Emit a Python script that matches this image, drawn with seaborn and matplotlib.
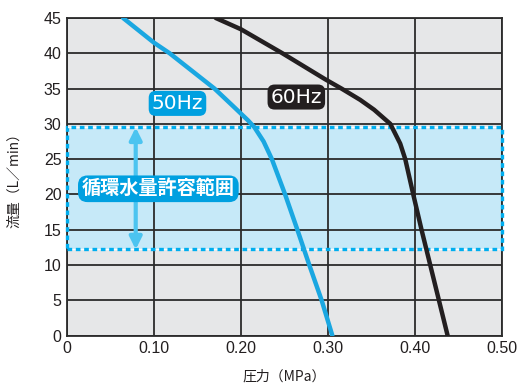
import matplotlib
matplotlib.use("Agg")
import matplotlib.pyplot as plt
from matplotlib.patches import Rectangle
import numpy as np
import pandas as pd
import seaborn as sns

# curve data (flow in L/min vs pressure in MPa)
flow_50 = [45, 41.5, 40, 35, 32.5, 30.5, 29.5, 27.5, 25, 20, 15, 10, 5, 0]
pres_50 = [0.0645, 0.100, 0.118, 0.1695, 0.191, 0.208, 0.2155, 0.226, 0.2355, 0.2507,
           0.2648, 0.2785, 0.2927, 0.305]
flow_60 = [45, 43.4, 40, 36.3, 35, 33.4, 32, 30, 27.2, 25, 20, 15, 10, 5, 0]
pres_60 = [0.171, 0.200, 0.2476, 0.297, 0.3155, 0.337, 0.353, 0.3716, 0.383, 0.3888,
           0.398, 0.4075, 0.4175, 0.4275, 0.4375]

# allowable circulating flow range
range_low = 12.2
range_high = 29.5

x_ticks = [0, 0.10, 0.20, 0.30, 0.40, 0.50]
x_tick_labels = ["0", "0.10", "0.20", "0.30", "0.40", "0.50"]
y_ticks = [0, 5, 10, 15, 20, 25, 30, 35, 40, 45]

BLUE = "#1aa7e1"
DARK = "#231f20"

sns.set_style("white")
plt.rcParams["font.family"] = ["Liberation Sans", "Noto Sans CJK JP", "DejaVu Sans"]

fig = plt.figure(figsize=(5.2, 3.86), dpi=100)
ax = fig.add_axes([0.1288, 0.1306, 0.8366, 0.8228])
ax.set_facecolor("#e6e7e8")

# shaded allowable range
ax.axhspan(range_low, range_high, facecolor="#c6e9f8", zorder=0.5)

# grid
ax.set_xlim(0, 0.5)
ax.set_ylim(0, 45)
ax.set_xticks(x_ticks)
ax.set_xticklabels(x_tick_labels)
ax.set_yticks(y_ticks)
ax.grid(True, color="#2b2b2b", linewidth=1.3, zorder=1)
ax.set_axisbelow(True)
for s in ax.spines.values():
    s.set_color("#2b2b2b")
    s.set_linewidth(1.3)
ax.tick_params(length=0, labelsize=11.5, colors="#231f20", pad=4)

# dashed border of range
rect = Rectangle((0, range_low), 0.5, range_high - range_low, fill=False,
                 edgecolor="#00aeef", linewidth=2.4, linestyle=(0, (1.4, 1.1)),
                 zorder=3, clip_on=False)
ax.add_patch(rect)

# curves
df50 = pd.DataFrame({"p": pres_50, "q": flow_50})
df60 = pd.DataFrame({"p": pres_60, "q": flow_60})
sns.lineplot(data=df50, x="p", y="q", sort=False, estimator=None, color=BLUE,
             linewidth=3.2, ax=ax, zorder=4, solid_joinstyle="round")
sns.lineplot(data=df60, x="p", y="q", sort=False, estimator=None, color=DARK,
             linewidth=3.2, ax=ax, zorder=4, solid_joinstyle="round")

# range arrow
ax.annotate("", xy=(0.079, range_high), xytext=(0.079, range_low),
            arrowprops=dict(arrowstyle="<|-|>", color="#4cc4f0", lw=3,
                            mutation_scale=18, shrinkA=0, shrinkB=0),
            zorder=5)

# labels
ax.text(0.127, 32.9, "50Hz", color="white", fontsize=14.5, ha="center", va="center",
        family=["DejaVu Sans"],
        bbox=dict(boxstyle="round,pad=0.15,rounding_size=0.35", fc="#00a0e0", ec="none"),
        zorder=6)
ax.text(0.2636, 33.8, "60Hz", color="white", fontsize=14.5, ha="center", va="center",
        family=["DejaVu Sans"],
        bbox=dict(boxstyle="round,pad=0.15,rounding_size=0.35", fc=DARK, ec="none"),
        zorder=6)
ax.text(0.105, 20.8, "循環水量許容範囲", color="white", fontsize=13.8, ha="center",
        va="center", fontweight="bold", family=["Noto Sans CJK JP"],
        bbox=dict(boxstyle="round,pad=0.2,rounding_size=0.5", fc="#00a0e0", ec="none"),
        zorder=6)

ax.set_xlabel("圧力（MPa）", fontsize=10, family=["Noto Sans CJK JP"], labelpad=10,
              color="#231f20")
ax.set_ylabel("流量（L／min）", fontsize=10, family=["Noto Sans CJK JP"], labelpad=16,
              color="#231f20")

fig.savefig("out.png", dpi=100)
